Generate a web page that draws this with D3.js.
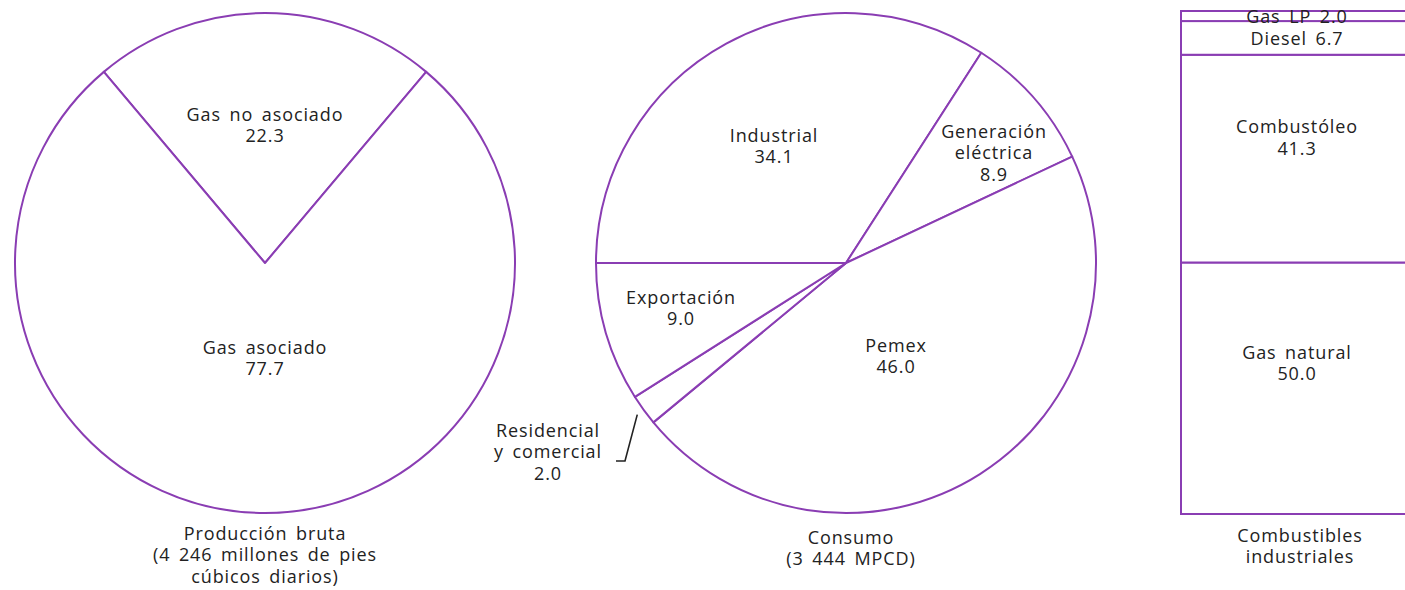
<!DOCTYPE html>
<html>
<head>
<meta charset="utf-8">
<script src="https://cdn.jsdelivr.net/npm/d3@7"></script>
<style>
  body { margin: 0; background: #fff; }
  text { font-family: "Open Sans", sans-serif; fill: #222; letter-spacing: 0.9px; word-spacing: 3px; }
</style>
</head>
<body>
<svg id="chart" width="1405" height="590"></svg>
<script>
// ---- DATA ----
const prodCategories = ["Gas no asociado", "Gas asociado"];
const prodValues = [22.3, 77.7];
const prodTitle = ["Producción bruta", "(4 246 millones de pies", "cúbicos diarios)"];

const consCategories = ["Industrial", "Generación eléctrica", "Pemex", "Residencial y comercial", "Exportación"];
const consValues = [34.1, 8.9, 46.0, 2.0, 9.0];
const consTitle = ["Consumo", "(3 444 MPCD)"];

const fuelCategories = ["Gas LP", "Diesel", "Combustóleo", "Gas natural"];
const fuelValues = [2.0, 6.7, 41.3, 50.0];
const fuelTitle = ["Combustibles", "industriales"];

// ---- STYLE / LAYOUT ----
const purple = "#8a3db3";
const fs = 18, lh = 21.5;
const svg = d3.select("#chart");

function multiline(g, lines, x, yCenter, lineH) {
  const L = lineH || lh;
  const t = g.append("text")
    .attr("text-anchor", "middle")
    .attr("font-size", fs);
  const y0 = yCenter - (lines.length - 1) * L / 2;
  lines.forEach((l, i) => {
    t.append("tspan").attr("x", x).attr("y", y0 + i * L).attr("dy", "0.35em").text(l);
  });
  return t;
}
const fmt = d3.format(".1f");

// ---- PIE 1 ----
{
  const cx = 265, cy = 263, r = 250;
  const g = svg.append("g").attr("transform", `translate(${cx},${cy})`);
  const a0 = -prodValues[0] / d3.sum(prodValues) * Math.PI;
  const pie = d3.pie().sort(null).startAngle(a0).endAngle(a0 + 2 * Math.PI);
  const arcs = pie(prodValues);
  const arc = d3.arc().innerRadius(0).outerRadius(r);
  g.selectAll("path").data(arcs).join("path")
    .attr("d", arc).attr("fill", "#fff")
    .attr("stroke", purple).attr("stroke-width", 2).attr("stroke-linejoin", "round");
  const lab = [[0, -138], [0, 95]];
  arcs.forEach((d, i) => {
    multiline(g, [prodCategories[i], fmt(prodValues[i])], lab[i][0], lab[i][1]);
  });
  multiline(svg, prodTitle, cx, 555, 21.5);
}

// ---- PIE 2 ----
{
  const cx = 846, cy = 263, r = 250;
  const g = svg.append("g").attr("transform", `translate(${cx},${cy})`);
  const a0 = -Math.PI / 2;
  const pie = d3.pie().sort(null).startAngle(a0).endAngle(a0 + 2 * Math.PI);
  const arcs = pie(consValues);
  const arc = d3.arc().innerRadius(0).outerRadius(r);
  g.selectAll("path").data(arcs).join("path")
    .attr("d", arc).attr("fill", "#fff")
    .attr("stroke", purple).attr("stroke-width", 2).attr("stroke-linejoin", "round");
  const labels = [
    { lines: ["Industrial", fmt(consValues[0])], x: -72, y: -117 },
    { lines: ["Generación", "eléctrica", fmt(consValues[1])], x: 148, y: -110 },
    { lines: ["Pemex", fmt(consValues[2])], x: 50, y: 93 },
    { lines: ["Residencial", "y comercial", fmt(consValues[3])], x: -298, y: 189 },
    { lines: ["Exportación", fmt(consValues[4])], x: -165, y: 45 }
  ];
  labels.forEach(l => multiline(g, l.lines, l.x, l.y));
  // leader for the small slice
  const d = arcs[3];
  const mid = (d.startAngle + d.endAngle) / 2;
  const tip = [Math.sin(mid) * (r + 8), -Math.cos(mid) * (r + 8)];
  const start = [-230, 198];
  g.append("path")
    .attr("d", d3.line()([start, [start[0] + 9, start[1]], tip]))
    .attr("fill", "none").attr("stroke", "#222").attr("stroke-width", 1.6);
  multiline(svg, consTitle, 851, 548);
}

// ---- STACKED BAR ----
{
  const x0 = 1181, x1 = 1414;
  const y = d3.scaleLinear().domain([0, d3.sum(fuelValues)]).range([514, 11]);
  const order = fuelCategories.map((c, i) => i).reverse();
  let acc = 0;
  const bands = [];
  order.forEach(i => {
    bands.push({ i, lo: acc, hi: acc + fuelValues[i] });
    acc += fuelValues[i];
  });
  const g = svg.append("g");
  g.selectAll("rect").data(bands).join("rect")
    .attr("x", x0).attr("width", x1 - x0)
    .attr("y", d => y(d.hi)).attr("height", d => y(d.lo) - y(d.hi))
    .attr("fill", "#fff").attr("stroke", purple).attr("stroke-width", 2);
  const cxm = 1297;
  bands.forEach(b => {
    const name = fuelCategories[b.i], v = fmt(fuelValues[b.i]);
    const top = y(b.hi), h = y(b.lo) - y(b.hi);
    if (fuelValues[b.i] < 10) multiline(g, [name + " " + v], cxm, top + h / 2 + 1);
    else multiline(g, [name, v], cxm, top + h * 0.4);
  });
  multiline(svg, fuelTitle, 1300, 546);
}
</script>
</body>
</html>
